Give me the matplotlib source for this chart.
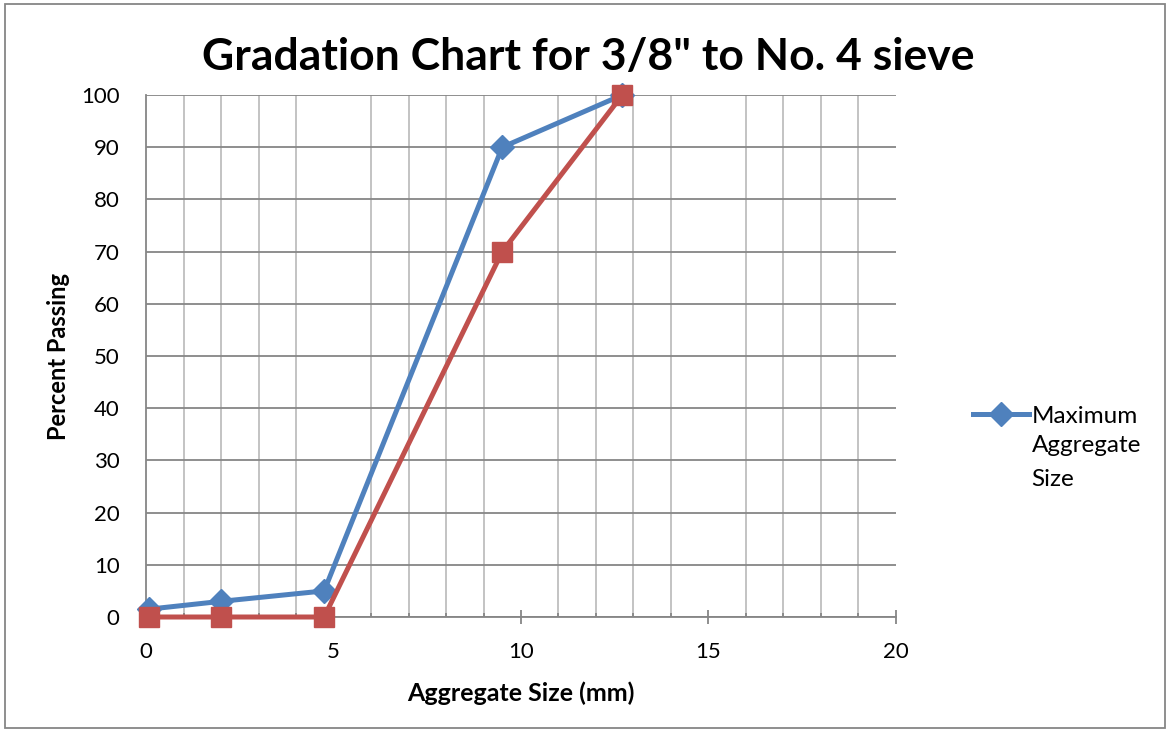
import matplotlib.pyplot as plt
from matplotlib.patches import Rectangle

size_mm = [0.075, 2, 4.75, 9.5, 12.7]
max_passing = [1.5, 3, 5, 90, 100]
min_passing = [0, 0, 0, 70, 100]

plt.rcParams['font.family'] = ['Lato', 'DejaVu Sans']

fig = plt.figure(figsize=(11.7, 7.32), dpi=100)
ax = fig.add_axes([0.1248, 0.1571, 0.641, 0.7131])

ax.plot(size_mm, max_passing, color='#4F81BD', lw=3.6, marker='D', ms=12,
        label='Maximum', zorder=3, clip_on=False)
ax.plot(size_mm, min_passing, color='#C0504D', lw=3.6, marker='s', ms=14.5,
        zorder=4, clip_on=False)

ax.set_xlim(0, 20)
ax.set_ylim(0, 100)
ax.set_xticks([0, 5, 10, 15, 20])
ax.set_xticks(range(21), minor=True)
ax.set_yticks(range(0, 101, 10))
ax.grid(which='major', axis='y', color='#868686', lw=1.3)
ax.grid(which='minor', axis='x', color='#BEBEBE', lw=1.3)
ax.set_axisbelow(True)
for s in ax.spines.values():
    s.set_color('#868686')
    s.set_linewidth(1.3)
ax.spines['top'].set_visible(False)
ax.spines['right'].set_visible(False)
ax.tick_params(which='major', axis='x', length=10, width=1.3, color='#868686',
               labelsize=16, pad=13, direction='inout')
ax.tick_params(which='minor', axis='x', length=3, width=1.3, color='#868686',
               direction='in')
ax.tick_params(which='major', axis='y', length=0, labelsize=16, pad=19)

fig.text(0.503, 0.922, 'Gradation Chart for 3/8" to No. 4 sieve', fontsize=32,
         fontweight='bold', ha='center', va='center')
ax.set_xlabel('Aggregate Size (mm)', fontsize=18, fontweight='bold', labelpad=14)
ax.set_ylabel('Percent Passing', fontsize=17, fontweight='bold', labelpad=8)

# legend entry wraps over three lines, marker sits on the first one
leg = ax.legend(loc='center left', bbox_to_anchor=(1.09, 0.385), frameon=False,
                fontsize=17.5, handlelength=2.3, handletextpad=0.1, borderaxespad=0)
ax.annotate('Aggregate\nSize', xy=(0, 0.5), xycoords=leg.get_texts()[0],
            xytext=(0, -14), textcoords='offset points', va='top', ha='left',
            fontsize=17.5, linespacing=1.72, zorder=10, annotation_clip=False)

fig.patches.append(Rectangle((0.004, 0.005), 0.992, 0.99, transform=fig.transFigure,
                             fill=False, edgecolor='#868686', lw=1.3))

fig.savefig('out.png', dpi=100)
